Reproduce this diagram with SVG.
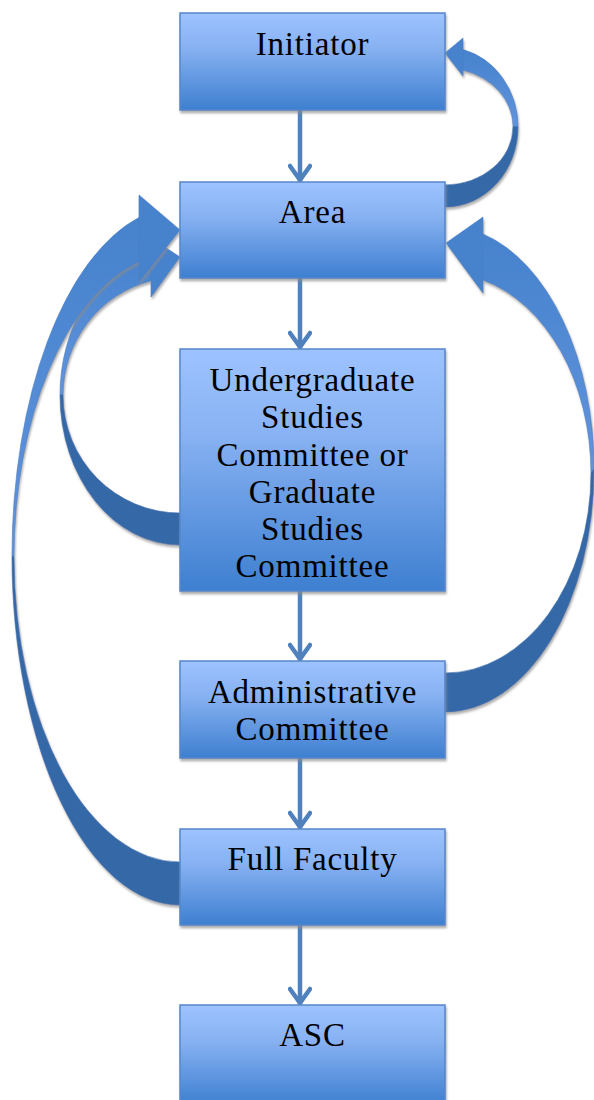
<svg xmlns="http://www.w3.org/2000/svg" width="594" height="1100" viewBox="0 0 594 1100">
<defs>
<linearGradient id="boxg" x1="0" y1="0" x2="0" y2="1">
<stop offset="0" stop-color="#9dc3ff"/>
<stop offset="0.35" stop-color="#88b2f3"/>
<stop offset="1" stop-color="#3e7fd0"/>
</linearGradient>
<linearGradient id="lightg" x1="0" y1="0" x2="0" y2="1">
<stop offset="0" stop-color="#4682cd"/>
<stop offset="1" stop-color="#6194dc"/>
</linearGradient>
<filter id="sh" x="-10%" y="-10%" width="130%" height="130%">
<feDropShadow dx="1" dy="2.5" stdDeviation="0.8" flood-color="#8a8a8a" flood-opacity="0.7"/>
</filter>
<marker id="chev" viewBox="0 0 20 24" refX="18" refY="12" markerWidth="20" markerHeight="24" markerUnits="userSpaceOnUse" orient="auto">
<path d="M3,2 L17,12 L3,22" fill="none" stroke="#4f81bd" stroke-width="4.5" stroke-linecap="round" stroke-linejoin="miter"/>
</marker>
</defs>
<style>
.box{fill:url(#boxg);stroke:#5586c9;stroke-width:1.5;filter:url(#sh)}
.lbl{font-family:"Liberation Serif","DejaVu Serif",serif;font-size:33px;letter-spacing:0.8px;fill:#000;text-anchor:middle}
.light{fill:url(#lightg);stroke:#4a7fc4;stroke-width:0.6}
.dark{fill:#3567a7;stroke:#3c6fb0;stroke-width:0.6}
.head{fill:#4682cd;stroke:#4a7fc4;stroke-width:0.6}
.conn{stroke:#4f81bd;stroke-width:4.5;fill:none;marker-end:url(#chev)}
</style>
<g id="connectors">
<g filter="url(#sh)">
<path class="light" d="M151,249.4 A120,150 0 0 0 60,395 L63,395 A117,118 0 0 1 151,280.7 Z"/>
<path class="dark" d="M60,395 A120,150 0 0 0 180,545 L180,513 A117,118 0 0 1 63,395 Z"/>
<path class="head" d="M180,257 L151,238 L151,297 Z"/>
</g>
<g filter="url(#sh)">
<path class="light" d="M139,217.5 A168,349 0 0 0 12,556 L14,557 A166,305 0 0 1 139,261.4 Z"/>
<path class="dark" d="M12,556 A168,349 0 0 0 180,905 L180,862 A166,305 0 0 1 14,557 Z"/>
<path class="head" d="M180,230 L139,195 L139,282 Z"/>
</g>
<g filter="url(#sh)">
<path class="light" d="M463,49.5 A73,80 0 0 1 518,127 L513,126.5 A68,58.5 0 0 0 463,70.1 Z"/>
<path class="dark" d="M518,127 A73,80 0 0 1 445,207 L445,185 A68,58.5 0 0 0 513,126.5 Z"/>
<path class="head" d="M445,53 L463,38 L463,76 Z"/>
</g>
<g filter="url(#sh)">
<path class="light" d="M483,234 A149,243 0 0 1 594,469 L591,473 A146,200 0 0 0 483,279.9 Z"/>
<path class="dark" d="M594,469 A149,243 0 0 1 445,712 L445,673 A146,200 0 0 0 591,473 Z"/>
<path class="head" d="M446,243 L483,217 L483,293 Z"/>
</g>
<line class="conn" x1="300" y1="110" x2="300" y2="181"/>
<line class="conn" x1="300" y1="278" x2="300" y2="348"/>
<line class="conn" x1="300" y1="591" x2="300" y2="660"/>
<line class="conn" x1="300" y1="758" x2="300" y2="828"/>
<line class="conn" x1="300" y1="925" x2="300" y2="1004"/>
</g>
<g id="initiator">
<rect class="box" x="180" y="13" width="265" height="97"/>
<text class="lbl" x="312.5" y="55">Initiator</text>
</g>
<g id="area">
<rect class="box" x="180" y="182" width="265" height="96"/>
<text class="lbl" x="312.5" y="223">Area</text>
</g>
<g id="usc">
<rect class="box" x="180" y="349" width="265" height="242"/>
<text class="lbl" x="312.5" y="391">Undergraduate</text>
<text class="lbl" x="312.5" y="428">Studies</text>
<text class="lbl" x="312.5" y="465.5">Committee or</text>
<text class="lbl" x="312.5" y="502.5">Graduate</text>
<text class="lbl" x="312.5" y="540">Studies</text>
<text class="lbl" x="312.5" y="577">Committee</text>
</g>
<g id="admin">
<rect class="box" x="180" y="661" width="265" height="97"/>
<text class="lbl" x="312.5" y="703">Administrative</text>
<text class="lbl" x="312.5" y="740">Committee</text>
</g>
<g id="faculty">
<rect class="box" x="180" y="829" width="265" height="96"/>
<text class="lbl" x="312.5" y="870">Full Faculty</text>
</g>
<g id="asc">
<rect class="box" x="180" y="1005" width="265" height="100"/>
<text class="lbl" x="312.5" y="1046">ASC</text>
</g>
</svg>
